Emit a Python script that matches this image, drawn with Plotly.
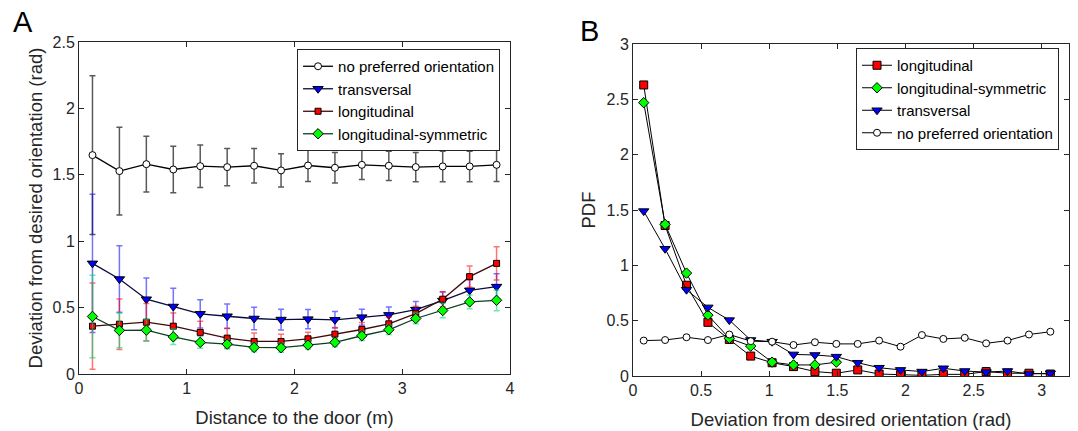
import plotly.graph_objects as go

# ---------------- Panel A data ----------------
dist = [0.125, 0.375, 0.625, 0.875, 1.125, 1.375, 1.625, 1.875,
        2.125, 2.375, 2.625, 2.875, 3.125, 3.375, 3.625, 3.875]

none_mean = [1.648, 1.528, 1.580, 1.540, 1.565, 1.558, 1.568, 1.533,
             1.570, 1.553, 1.575, 1.568, 1.558, 1.563, 1.563, 1.575]
none_err = [0.597, 0.330, 0.210, 0.175, 0.160, 0.140, 0.130, 0.125,
            0.120, 0.115, 0.110, 0.110, 0.110, 0.115, 0.115, 0.125]

trans_mean = [0.833, 0.715, 0.563, 0.508, 0.453, 0.435, 0.418, 0.410,
              0.413, 0.408, 0.428, 0.445, 0.485, 0.553, 0.630, 0.658]
trans_err = [0.520, 0.250, 0.160, 0.137, 0.107, 0.093, 0.085, 0.078,
             0.072, 0.062, 0.060, 0.060, 0.060, 0.065, 0.080, 0.097]

long_mean = [0.360, 0.375, 0.390, 0.360, 0.313, 0.270, 0.245, 0.245,
             0.265, 0.300, 0.335, 0.378, 0.455, 0.563, 0.733, 0.833]
long_err = [0.325, 0.190, 0.140, 0.100, 0.085, 0.075, 0.063, 0.055,
            0.050, 0.050, 0.053, 0.052, 0.055, 0.057, 0.080, 0.125]

sym_mean = [0.433, 0.328, 0.330, 0.280, 0.238, 0.225, 0.200, 0.198,
            0.218, 0.238, 0.288, 0.333, 0.418, 0.478, 0.543, 0.555]
sym_err = [0.310, 0.130, 0.083, 0.058, 0.045, 0.035, 0.033, 0.035,
           0.030, 0.032, 0.035, 0.035, 0.040, 0.055, 0.052, 0.078]

# ---------------- Panel B data ----------------
dev = [0.0785, 0.2356, 0.3927, 0.5498, 0.7069, 0.8639, 1.0210, 1.1781,
       1.3352, 1.4923, 1.6493, 1.8064, 1.9635, 2.1206, 2.2777, 2.4347,
       2.5918, 2.7489, 2.9060, 3.0631]

pdf_long = [2.63, 1.36, 0.82, 0.485, 0.33, 0.18, 0.12, 0.085, 0.04, 0.025,
            0.055, 0.018, 0.012, 0.006, 0.015, 0.015, 0.04, 0.025, 0.025, 0.018]
pdf_sym = [2.47, 1.37, 0.93, 0.55, 0.34, 0.27, 0.125, 0.10, 0.10, 0.125]
pdf_trans = [1.49, 1.15, 0.78, 0.62, 0.505, 0.325, 0.31, 0.195, 0.19, 0.175,
             0.12, 0.075, 0.055, 0.04, 0.07, 0.045, 0.035, 0.045, 0.018, 0.025]
pdf_none = [0.32, 0.325, 0.35, 0.325, 0.375, 0.315, 0.31, 0.28, 0.305, 0.29,
            0.29, 0.32, 0.265, 0.37, 0.335, 0.345, 0.295, 0.32, 0.375, 0.40]

FONT = "Liberation Sans, Arial, Helvetica, sans-serif"
AX = "#262626"

fig = go.Figure()

# Panel A traces
def add_a(y, err, name, sym, size, fill, line_col, err_col):
    fig.add_trace(go.Scatter(
        x=dist, y=y, name=name, mode="lines+markers",
        xaxis="x", yaxis="y", legend="legend",
        line=dict(color=line_col, width=1.3),
        marker=dict(symbol=sym, size=size, color=fill,
                    line=dict(color="black", width=1)),
        error_y=dict(type="data", array=err, visible=True,
                     color=err_col, thickness=1.5, width=3),
    ))

add_a(none_mean, none_err, "no preferred orientation", "circle", 7, "white",
      "black", "rgba(0,0,0,0.65)")
add_a(trans_mean, trans_err, "transversal", "triangle-down", 9, "#0000ff",
      "#0a0a40", "rgba(0,0,255,0.55)")
add_a(long_mean, long_err, "longitudinal", "square", 6, "#ff0000",
      "#400a0a", "rgba(255,0,0,0.55)")
add_a(sym_mean, sym_err, "longitudinal-symmetric", "diamond", 8, "#00ff00",
      "#0a4020", "rgba(0,220,120,0.6)")

# Panel B traces
def add_b(x, y, name, sym, size, fill):
    fig.add_trace(go.Scatter(
        x=x, y=y, name=name, mode="lines+markers",
        xaxis="x2", yaxis="y2", legend="legend2",
        line=dict(color="black", width=1),
        marker=dict(symbol=sym, size=size, color=fill,
                    line=dict(color="black", width=1)),
    ))

add_b(dev, pdf_long, "longitudinal", "square", 8, "#ff0000")
add_b(dev[:len(pdf_sym)], pdf_sym, "longitudinal-symmetric", "diamond", 8, "#00ff00")
add_b(dev, pdf_trans, "transversal", "triangle-down", 9, "#0000ff")
add_b(dev, pdf_none, "no preferred orientation", "circle", 7, "white")

axis_common = dict(
    showline=True, linecolor=AX, linewidth=1, mirror="ticks",
    ticks="inside", ticklen=5, tickcolor=AX, tickwidth=1,
    showgrid=False, zeroline=False, automargin=False,
    tickfont=dict(family=FONT, size=16, color=AX),
)

legend_common = dict(
    font=dict(family=FONT, size=15, color="black"),
    bgcolor="white", bordercolor=AX, borderwidth=1,
    itemwidth=30, tracegroupgap=0, xanchor="right", yanchor="top",
)

fig.update_layout(
    width=1078, height=431,
    margin=dict(l=79, r=9, t=42, b=55),
    paper_bgcolor="white", plot_bgcolor="white",
    font=dict(family=FONT, color=AX),
    xaxis=dict(domain=[0, 0.4354], range=[0, 4], dtick=1, anchor="y",
               title=dict(text="Distance to the door (m)",
                          font=dict(family=FONT, size=18.5, color=AX), standoff=14),
               **axis_common),
    yaxis=dict(domain=[0.006, 1], range=[0, 2.5], dtick=0.5, anchor="x",
               title=dict(text="Deviation from desired orientation (rad)",
                          font=dict(family=FONT, size=18.5, color=AX), standoff=5),
               **axis_common),
    xaxis2=dict(domain=[0.5596, 1], range=[0, 3.2], dtick=0.5, anchor="y2",
                title=dict(text="Deviation from desired orientation (rad)",
                           font=dict(family=FONT, size=18.5, color=AX), standoff=14),
                **axis_common),
    yaxis2=dict(domain=[0, 0.994], range=[0, 3], dtick=0.5, anchor="x2",
                title=dict(text="PDF",
                           font=dict(family=FONT, size=18.5, color=AX), standoff=6),
                **axis_common),
    legend=dict(x=0.4253, y=0.979, **legend_common),
    legend2=dict(x=0.9899, y=0.982, **legend_common),
    showlegend=True,
    annotations=[
        dict(text="A", x=-0.0566, y=1.06, xref="paper", yref="paper",
             showarrow=False, font=dict(family=FONT, size=29, color="black"),
             xanchor="center", yanchor="middle"),
        dict(text="B", x=0.516, y=1.033, xref="paper", yref="paper",
             showarrow=False, font=dict(family=FONT, size=29, color="black"),
             xanchor="center", yanchor="middle"),
    ],
)

fig.write_html("out.html",
               config={"displayModeBar": False},
               post_script="document.body.style.margin='0px';document.body.style.overflow='hidden';")
